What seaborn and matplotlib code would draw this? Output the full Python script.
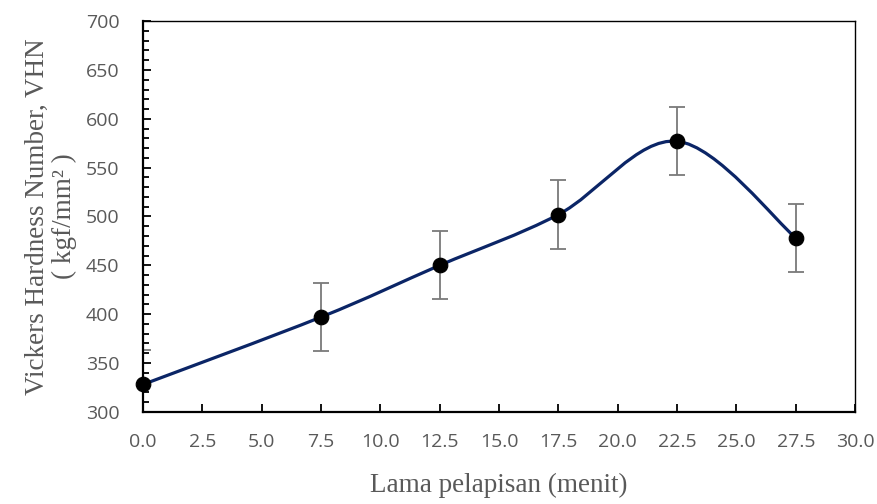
import numpy as np
import pandas as pd
import seaborn as sns
import matplotlib.pyplot as plt
from matplotlib.path import Path
from matplotlib.patches import PathPatch
from matplotlib.ticker import MultipleLocator

# data
waktu = [0.0, 7.5, 12.5, 17.5, 22.5, 27.5]
vhn = [328, 397, 450, 502, 577, 478]
err = [35, 35, 35, 35, 35, 35]

df = pd.DataFrame({'waktu': waktu, 'vhn': vhn, 'err': err})

sns.set_style("white")
plt.rcParams['font.family'] = ['Open Sans', 'DejaVu Sans']

fig, ax = plt.subplots(figsize=(8.78, 5.04), dpi=100)
fig.subplots_adjust(left=0.163, right=0.974, top=0.958, bottom=0.183)

# Excel-like smoothed line (cubic bezier through the points)
pts = df[['waktu', 'vhn']].to_numpy(dtype=float)
verts = [tuple(pts[0])]
codes = [Path.MOVETO]
n = len(pts)
for i in range(n - 1):
    p0 = pts[max(i - 1, 0)]
    p1 = pts[i]
    p2 = pts[i + 1]
    p3 = pts[min(i + 2, n - 1)]
    c1 = p1 + (p2 - p0) / 6.0
    c2 = p2 - (p3 - p1) / 6.0
    verts += [tuple(c1), tuple(c2), tuple(p2)]
    codes += [Path.CURVE4] * 3
ax.add_patch(PathPatch(Path(verts, codes), fill=False, edgecolor='#0b2566', lw=2.3, zorder=3))

ax.errorbar(df['waktu'], df['vhn'], yerr=df['err'], fmt='none', ecolor='#7a7a7a',
            elinewidth=1.3, capsize=6, capthick=1.3, zorder=2)
sns.scatterplot(data=df, x='waktu', y='vhn', color='black', s=110, edgecolor='black',
                zorder=4, ax=ax, clip_on=False)

ax.set_xlim(0, 30)
ax.set_ylim(300, 700)
ax.xaxis.set_major_locator(MultipleLocator(2.5))
ax.yaxis.set_major_locator(MultipleLocator(50))
ax.yaxis.set_minor_locator(MultipleLocator(10))
ax.xaxis.set_major_formatter(plt.FuncFormatter(lambda v, p: f"{v:.1f}"))
ax.tick_params(axis='both', which='major', direction='in', length=6, width=1.3,
               labelsize=14, labelcolor='#595959', color='black')
ax.tick_params(axis='y', which='major', pad=17, left=True)
ax.tick_params(axis='x', which='major', pad=15, bottom=True)
ax.tick_params(axis='y', which='minor', direction='in', length=4, width=1.3, color='black', left=True)

for side in ['left', 'bottom']:
    ax.spines[side].set_linewidth(1.6)
    ax.spines[side].set_color('black')
for side in ['top', 'right']:
    ax.spines[side].set_linewidth(1.0)
    ax.spines[side].set_color('black')

lab = dict(family='Liberation Serif', fontsize=19.5, color='#595959')
ax.set_xlabel('Lama pelapisan (menit)', labelpad=16, **lab)
ax.set_ylabel('Vickers Hardness Number, VHN\n( kgf/mm² )', labelpad=6, linespacing=1.15, **lab)

plt.savefig("out.png", dpi=100)
plt.close()
